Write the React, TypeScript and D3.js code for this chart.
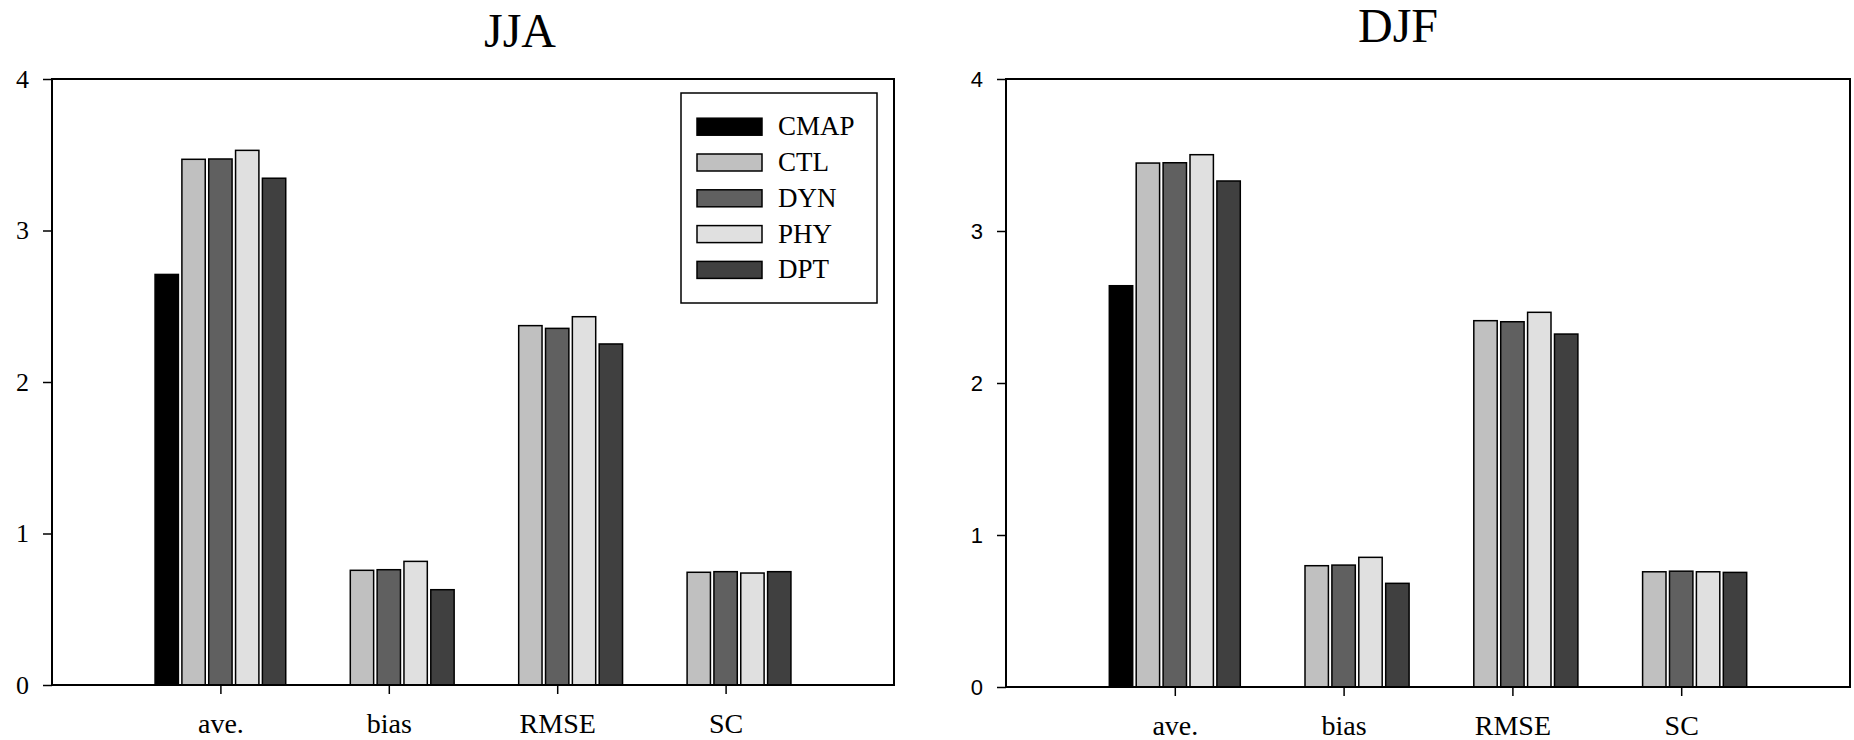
import React, { useEffect, useRef } from "react";
import * as d3 from "d3";

// categories and series
const categories = ["ave.", "bias", "RMSE", "SC"];
const seriesNames = ["CMAP", "CTL", "DYN", "PHY", "DPT"];
const seriesColors = ["#000000", "#c0c0c0", "#606060", "#e0e0e0", "#404040"];
const yTicks = [0, 1, 2, 3, 4];

// JJA values (CMAP only has the average)
const jjaCMAP = [2.71, null, null, null];
const jjaCTL = [3.47, 0.757, 2.372, 0.744];
const jjaDYN = [3.472, 0.761, 2.354, 0.748];
const jjaPHY = [3.529, 0.816, 2.431, 0.739];
const jjaDPT = [3.345, 0.629, 2.251, 0.748];

// DJF values
const djfCMAP = [2.64, null, null, null];
const djfCTL = [3.447, 0.798, 2.41, 0.758];
const djfDYN = [3.449, 0.802, 2.403, 0.762];
const djfPHY = [3.502, 0.853, 2.465, 0.758];
const djfDPT = [3.329, 0.682, 2.322, 0.754];

const SERIF = "'Liberation Serif', 'Times New Roman', serif";
const SANS = "'Liberation Sans', Arial, sans-serif";

const panels = [
  {
    title: "JJA",
    series: [jjaCMAP, jjaCTL, jjaDYN, jjaPHY, jjaDPT],
    left: 52, right: 894, top: 79, bottom: 685,
    titleX: 520, titleY: 47,
    tickFont: SERIF, tickSize: 26,
    legend: true,
  },
  {
    title: "DJF",
    series: [djfCMAP, djfCTL, djfDYN, djfPHY, djfDPT],
    left: 1006, right: 1850, top: 79, bottom: 687,
    titleX: 1398, titleY: 42,
    tickFont: SANS, tickSize: 22,
    legend: false,
  },
];

export default function App() {
  const ref = useRef<SVGSVGElement>(null);

  useEffect(() => {
    const svg = d3.select(ref.current);
    svg.selectAll("*").remove();

    panels.forEach((p) => {
      const g = svg.append("g");

      // x: categories sit at 1..4 on a 0..5 scale
      const x = d3.scaleLinear().domain([0, categories.length + 1]).range([p.left, p.right]);
      const y = d3.scaleLinear().domain([0, 4]).range([p.bottom, p.top]);
      const step = x(1) - x(0);
      const groupW = step * 0.776;
      const inner = d3
        .scaleBand()
        .domain(seriesNames)
        .range([-groupW / 2, groupW / 2])
        .paddingInner(0.13);

      // title
      g.append("text")
        .attr("x", p.titleX)
        .attr("y", p.titleY)
        .attr("text-anchor", "middle")
        .style("font-family", SERIF)
        .style("font-size", "48px")
        .text(p.title);

      // bars
      p.series.forEach((vals, si) => {
        g.append("g")
          .selectAll("rect")
          .data(vals.map((v, ci) => ({ v, ci })).filter((d) => d.v != null))
          .join("rect")
          .attr("x", (d) => x(d.ci + 1) + (inner(seriesNames[si]) as number))
          .attr("y", (d) => y(d.v as number))
          .attr("width", inner.bandwidth())
          .attr("height", (d) => y(0) - y(d.v as number))
          .attr("fill", seriesColors[si])
          .attr("stroke", "#000")
          .attr("stroke-width", 1.5);
      });

      // frame
      g.append("rect")
        .attr("x", p.left)
        .attr("y", p.top)
        .attr("width", p.right - p.left)
        .attr("height", p.bottom - p.top)
        .attr("fill", "none")
        .attr("stroke", "#000")
        .attr("stroke-width", 2);

      // y axis
      const yAxis = g
        .append("g")
        .attr("transform", `translate(${p.left},0)`)
        .call(d3.axisLeft(y).tickValues(yTicks).tickFormat(d3.format("d")).tickSize(9).tickPadding(14));
      yAxis.select(".domain").remove();
      yAxis.selectAll("line").attr("stroke-width", 1.5);
      yAxis
        .selectAll("text")
        .style("font-family", p.tickFont)
        .style("font-size", `${p.tickSize}px`)
        .attr("fill", "#000");

      // x axis
      const xAxis = g
        .append("g")
        .attr("transform", `translate(0,${p.bottom})`)
        .call(
          d3
            .axisBottom(x)
            .tickValues(categories.map((_, i) => i + 1))
            .tickFormat((d) => categories[(d as number) - 1])
            .tickSize(9)
            .tickPadding(19)
        );
      xAxis.select(".domain").remove();
      xAxis.selectAll("line").attr("stroke-width", 1.5);
      xAxis
        .selectAll("text")
        .style("font-family", SERIF)
        .style("font-size", "28px")
        .attr("fill", "#000");

      // legend
      if (p.legend) {
        const lg = g.append("g");
        lg.append("rect")
          .attr("x", 681)
          .attr("y", 93)
          .attr("width", 196)
          .attr("height", 210)
          .attr("fill", "#fff")
          .attr("stroke", "#000")
          .attr("stroke-width", 1.5);
        seriesNames.forEach((name, i) => {
          const cy = 126.7 + i * 35.8;
          lg.append("rect")
            .attr("x", 697)
            .attr("y", cy - 8.5)
            .attr("width", 65)
            .attr("height", 17)
            .attr("fill", seriesColors[i])
            .attr("stroke", "#000")
            .attr("stroke-width", 1.5);
          lg.append("text")
            .attr("x", 778)
            .attr("y", cy + 8.5)
            .style("font-family", SERIF)
            .style("font-size", "27px")
            .text(name);
        });
      }
    });
  }, []);

  return (
    <svg
      ref={ref}
      width={1854}
      height={740}
      style={{ position: "absolute", left: 0, top: 0, background: "#fff" }}
    />
  );
}
